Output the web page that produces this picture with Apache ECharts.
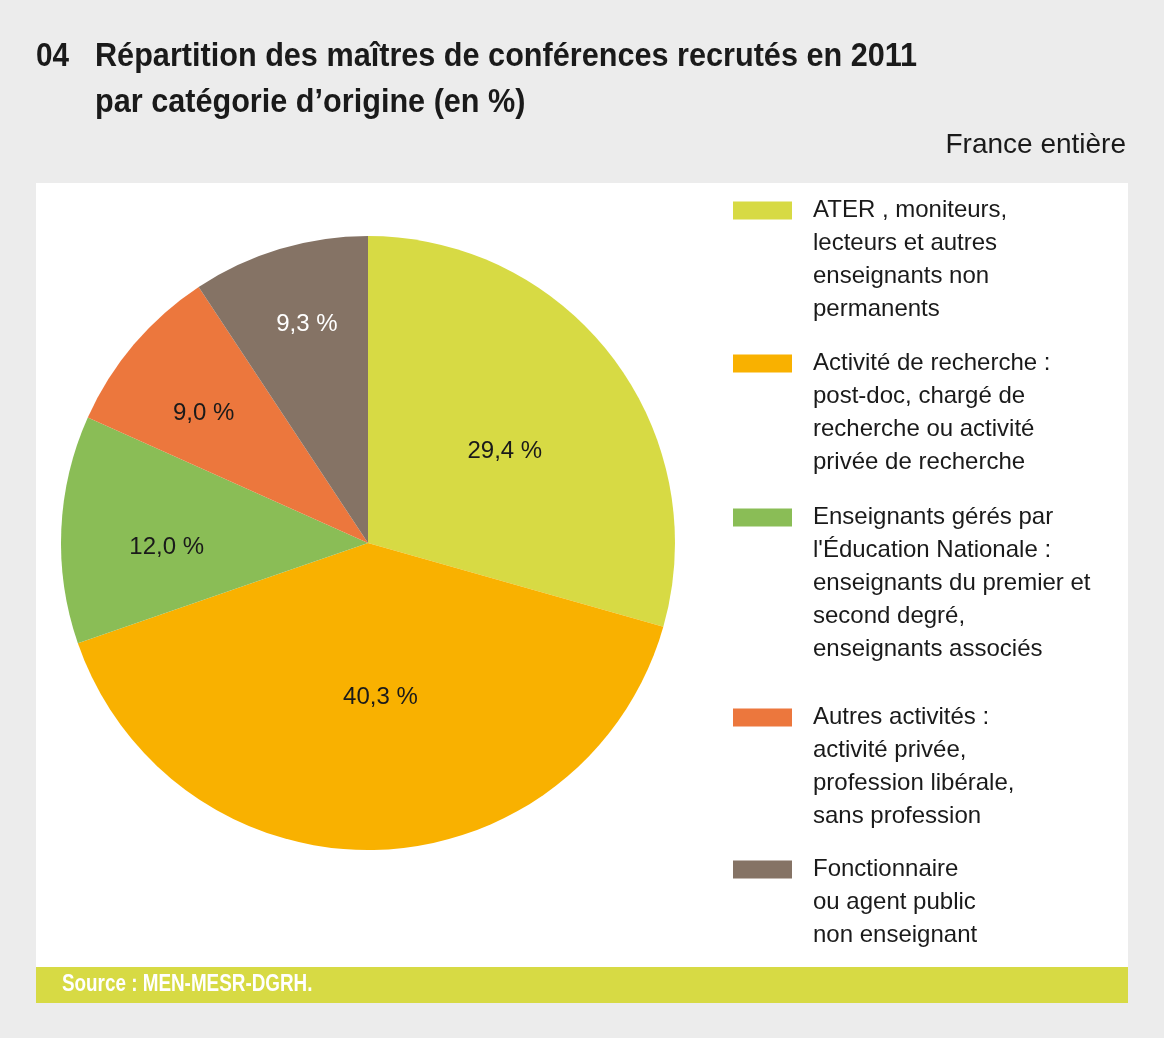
<!DOCTYPE html>
<html>
<head>
<meta charset="utf-8">
<script src="https://cdn.jsdelivr.net/npm/echarts@6/dist/echarts.min.js"></script>
<style>
  html, body { margin: 0; padding: 0; background: #ececec; }
  #chart { width: 1164px; height: 1038px; }
</style>
</head>
<body>
<div id="chart"></div>
<script>
// categories (legend text, line breaks as in the figure)
const categories = [
  'ATER , moniteurs,\nlecteurs et autres\nenseignants non\npermanents',
  'Activité de recherche :\npost-doc, chargé de\nrecherche ou activité\nprivée de recherche',
  'Enseignants gérés par\nl\'Éducation Nationale :\nenseignants du premier et\nsecond degré,\nenseignants associés',
  'Autres activités :\nactivité privée,\nprofession libérale,\nsans profession',
  'Fonctionnaire\nou agent public\nnon enseignant'
];
// share of recruits, %
const values = [29.4, 40.3, 12.0, 9.0, 9.3];

const colors = ['#d7da44', '#f9b100', '#8abd56', '#ec773d', '#857365'];
const labelColors = ['#1a1a1a', '#1a1a1a', '#1a1a1a', '#1a1a1a', '#ffffff'];
// label nudges away from the default mid-radius spot
const labelOffsets = [[12, 3], [8, -2], [-45, 11], [-45, -28], [-16, -69]];
// top of each legend swatch
const legendTops = [201, 354, 508, 708, 860];

const FONT = "'Liberation Sans', Arial, sans-serif";
const LH = 33;

const chart = echarts.init(document.getElementById('chart'));

// legend text is centred on the swatch, so blank lines are put in front
// to bring the first real line level with the swatch
const legends = categories.map((name, i) => {
  const n = name.split('\n').length;
  return {
    left: 733,
    top: legendTops[i] + 9.5 - (2 * n - 1) * LH / 2,
    orient: 'vertical',
    padding: 0,
    icon: 'rect',
    itemWidth: 59,
    itemHeight: 18,
    itemGap: 0,
    selectedMode: false,
    data: [name],
    formatter: nm => '\n'.repeat(n - 1) + nm,
    textStyle: {
      fontFamily: FONT,
      fontSize: 24,
      lineHeight: LH,
      color: '#1a1a1a',
      padding: [0, 0, 0, 16]
    }
  };
});

const option = {
  backgroundColor: '#ececec',
  animation: false,
  color: colors,
  legend: legends,
  graphic: [
    { type: 'rect', z: -10, shape: { x: 36, y: 183, width: 1092, height: 784 }, style: { fill: '#ffffff' } },
    { type: 'rect', z: -10, shape: { x: 36, y: 967, width: 1092, height: 36 }, style: { fill: '#d7da44' } },
    {
      type: 'text', x: 62, y: 985, scaleX: 0.82,
      style: { text: 'Source : MEN-MESR-DGRH.', fill: '#ffffff', font: 'bold 23px ' + FONT, verticalAlign: 'middle' }
    },
    {
      type: 'text', x: 36, y: 57, scaleX: 0.9,
      style: { text: '04', fill: '#1a1a1a', font: 'bold 33px ' + FONT, verticalAlign: 'middle' }
    },
    {
      type: 'text', x: 95, y: 57, scaleX: 0.928,
      style: { text: 'Répartition des maîtres de conférences recrutés en 2011', fill: '#1a1a1a', font: 'bold 33px ' + FONT, verticalAlign: 'middle' }
    },
    {
      type: 'text', x: 95, y: 103, scaleX: 0.928,
      style: { text: 'par catégorie d’origine (en %)', fill: '#1a1a1a', font: 'bold 33px ' + FONT, verticalAlign: 'middle' }
    },
    {
      type: 'text', x: 1126, y: 145,
      style: { text: 'France entière', fill: '#1a1a1a', font: '28px ' + FONT, align: 'right', verticalAlign: 'middle' }
    }
  ],
  series: [{
    type: 'pie',
    center: [368, 543],
    radius: [0, 307],
    startAngle: 90,
    clockwise: true,
    avoidLabelOverlap: false,
    itemStyle: { borderWidth: 0 },
    emphasis: { disabled: true },
    label: {
      show: true,
      position: 'inside',
      fontFamily: FONT,
      fontSize: 24,
      formatter: p => p.value.toFixed(1).replace('.', ',') + ' %'
    },
    labelLine: { show: false },
    data: categories.map((name, i) => ({
      name: name,
      value: values[i],
      label: { color: labelColors[i], offset: labelOffsets[i] }
    }))
  }]
};

chart.setOption(option);
</script>
</body>
</html>
